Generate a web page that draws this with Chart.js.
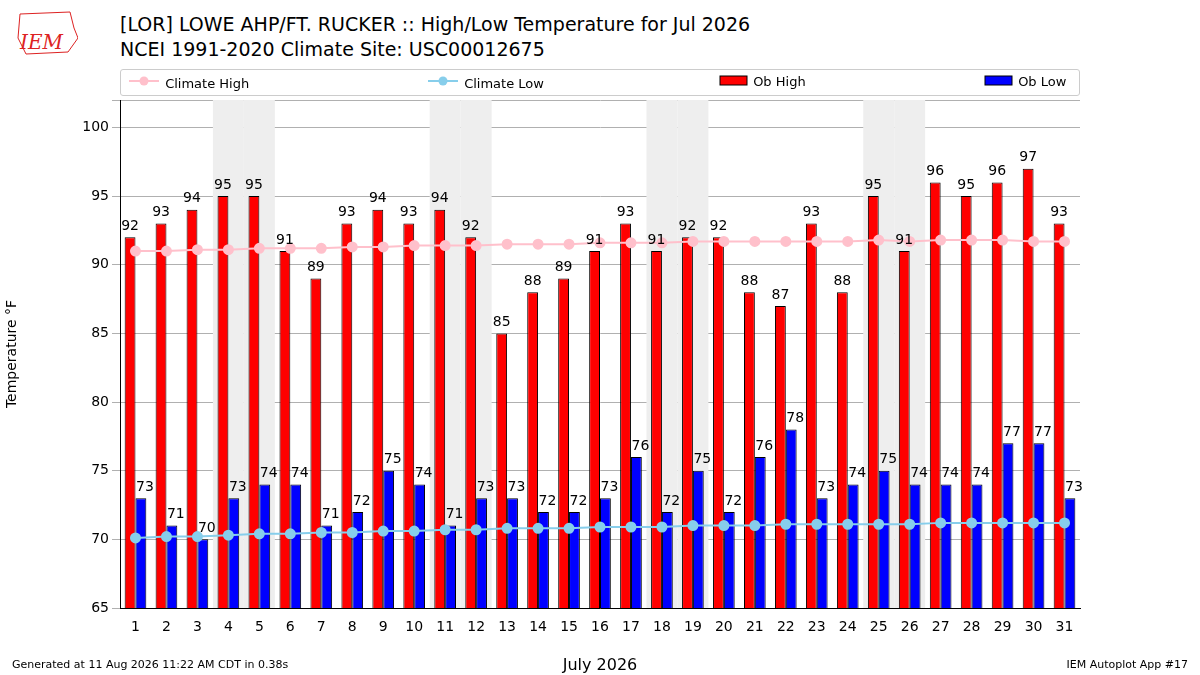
<!DOCTYPE html>
<html><head><meta charset="utf-8">
<script src="https://cdn.jsdelivr.net/npm/chart.js@4"></script>
<style>
body{margin:0;width:1200px;height:675px;background:#fff;font-family:"DejaVu Sans",sans-serif;position:relative;overflow:hidden}
#t{position:absolute;left:120px;top:12px;font-size:19px;line-height:25px;color:#000}
#logo{position:absolute;left:12px;top:8px;width:66px;height:48px;color:#d22;font:italic 20px "DejaVu Serif",serif}
#leg{position:absolute;left:120px;top:69px;width:958px;height:25px;border:1px solid #ccc;border-radius:3px;font-size:13px}
.li{position:absolute;top:4px}
#foot1{position:absolute;left:12px;top:658px;font-size:11px}
#foot2{position:absolute;right:12px;top:658px;font-size:11px}
#c{position:absolute;left:0;top:0}
</style></head><body>
<div id="logo"><svg width="66" height="48"><path d="M8 6 L58 4 L62 20 L66 30 L56 44 L14 46 L6 30 Z" fill="none" stroke="#d22" stroke-width="1"/></svg><span style="position:absolute;left:8px;top:22px">IEM</span></div>
<div id="t">[LOR] LOWE AHP/FT. RUCKER :: High/Low Temperature for Jul 2026<br>NCEI 1991-2020 Climate Site: USC00012675</div>
<div id="c"><canvas id="cv" width="1200" height="675"></canvas></div>
<div id="leg">
<span class="li" style="left:6px"><svg width="34" height="14"><line x1="2" y1="7" x2="32" y2="7" stroke="pink" stroke-width="2"/><circle cx="17" cy="7" r="4.5" fill="pink"/></svg> Climate High</span>
<span class="li" style="left:305px"><svg width="34" height="14"><line x1="2" y1="7" x2="32" y2="7" stroke="skyblue" stroke-width="2"/><circle cx="17" cy="7" r="4.5" fill="skyblue"/></svg> Climate Low</span>
<span class="li" style="left:598px"><svg width="30" height="12"><rect x="1" y="2" width="27" height="9" fill="red" stroke="#000"/></svg> Ob High</span>
<span class="li" style="left:863px"><svg width="30" height="12"><rect x="1" y="2" width="27" height="9" fill="blue" stroke="#000"/></svg> Ob Low</span>
</div>
<div id="foot1">Generated at 11 Aug 2026 11:22 AM CDT in 0.38s</div>
<div id="foot2">IEM Autoplot App #17</div>
<script>
const days = Array.from({length:31},(_,i)=>String(i+1));
const obHigh = [92,93,94,95,95,91,89,93,94,93,94,92,85,88,89,91,93,91,92,92,88,87,93,88,95,91,96,95,96,97,93];
const obLow = [73,71,70,73,74,74,71,72,75,74,71,73,73,72,72,73,76,72,75,72,76,78,73,74,75,74,74,74,77,77,73];
const climHigh = [91.0,91.0,91.1,91.1,91.2,91.2,91.2,91.3,91.3,91.4,91.4,91.4,91.5,91.5,91.5,91.6,91.6,91.6,91.7,91.7,91.7,91.7,91.7,91.7,91.8,91.7,91.8,91.8,91.8,91.7,91.7];
const climLow = [70.1,70.2,70.2,70.3,70.4,70.4,70.5,70.5,70.6,70.6,70.7,70.7,70.8,70.8,70.8,70.9,70.9,70.9,71.0,71.0,71.0,71.1,71.1,71.1,71.1,71.1,71.2,71.2,71.2,71.2,71.2];
const weekends = [4,5,11,12,18,19,25,26];

const shade = {id:'shade',beforeDatasetsDraw(c){
  const x=c.scales.x,a=c.chartArea,ctx=c.ctx,w=x.getPixelForValue(1)-x.getPixelForValue(0);
  ctx.save();ctx.fillStyle='#eeeeee';
  weekends.forEach(d=>{const cx=x.getPixelForValue(d-1);ctx.fillRect(cx-w/2,a.top,w,a.bottom-a.top);});
  ctx.restore();}};
const labels = {id:'labels',afterDatasetsDraw(c){
  const ctx=c.ctx;ctx.save();ctx.font='14px "DejaVu Sans"';ctx.fillStyle='#000';ctx.textAlign='center';ctx.textBaseline='bottom';
  [2,3].forEach(di=>{c.getDatasetMeta(di).data.forEach((b,i)=>{const v=c.data.datasets[di].data[i];ctx.fillText(v,b.x+(di==3?4:0),b.y-4);});});
  ctx.restore();}};

new Chart(document.getElementById('cv'),{
  data:{labels:days,datasets:[
    {type:'line',label:'Climate High',data:climHigh,borderColor:'pink',backgroundColor:'pink',pointRadius:4.5,borderWidth:2,order:0},
    {type:'line',label:'Climate Low',data:climLow,borderColor:'skyblue',backgroundColor:'skyblue',pointRadius:4.5,borderWidth:2,order:0},
    {type:'bar',label:'Ob High',data:obHigh,backgroundColor:'red',borderColor:'#000',borderWidth:1,categoryPercentage:0.7,barPercentage:1,order:1},
    {type:'bar',label:'Ob Low',data:obLow,backgroundColor:'blue',borderColor:'#000',borderWidth:1,categoryPercentage:0.7,barPercentage:1,order:1}
  ]},
  plugins:[shade,labels],
  options:{responsive:false,animation:false,
    layout:{padding:{left:0,right:120,top:100,bottom:0}},
    plugins:{legend:{display:false},tooltip:{enabled:false}},
    scales:{
      x:{offset:true,grid:{display:false},border:{color:'#000'},
        ticks:{color:'#000',font:{size:14,family:'DejaVu Sans'},autoSkip:false,maxRotation:0},
        title:{display:true,text:'July 2026',color:'#000',font:{size:16,family:'DejaVu Sans'},padding:0},
        afterFit(s){s.height=67;}},
      y:{min:65,max:102,grid:{color:'#b0b0b0'},border:{color:'#000'},
        ticks:{stepSize:5,color:'#000',font:{size:14,family:'DejaVu Sans'},callback:v=>v>100?'':v},
        title:{display:true,text:'Temperature °F',color:'#000',font:{size:14,family:'DejaVu Sans'}},
        afterFit(s){s.width=120;}}
    }}
});
</script>
</body></html>
